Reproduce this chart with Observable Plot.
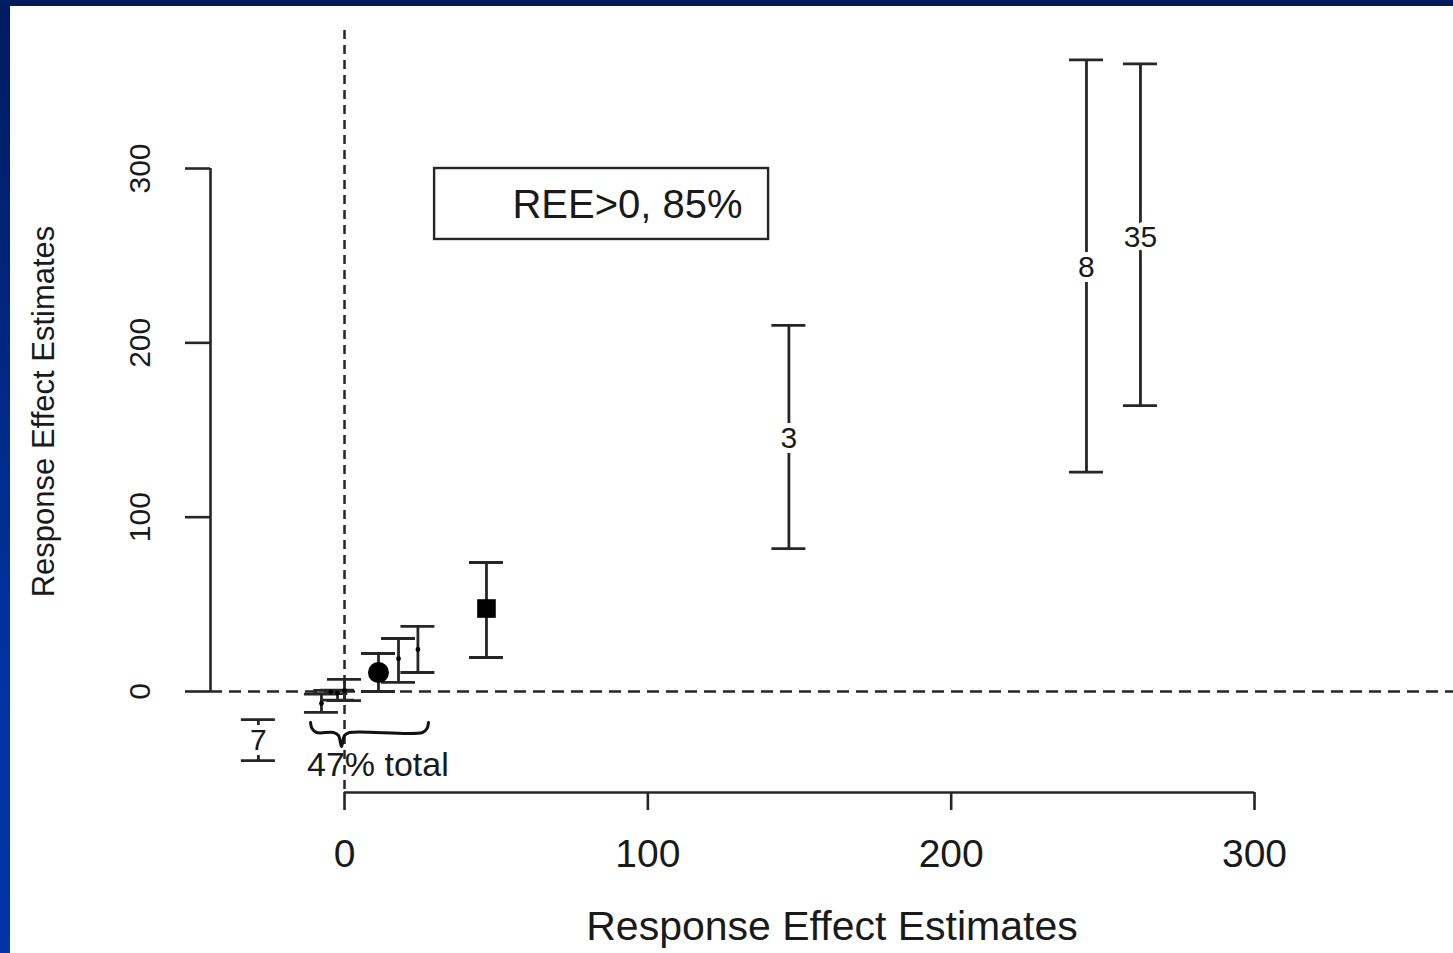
<!DOCTYPE html>
<html>
<head>
<meta charset="utf-8">
<script src="https://cdn.jsdelivr.net/npm/d3@7"></script>
<script src="https://cdn.jsdelivr.net/npm/@observablehq/plot@0.6"></script>
<style>
  html, body { margin: 0; padding: 0; background: #ffffff; overflow: hidden; }
  #wrap { position: relative; width: 1453px; height: 953px; background: #ffffff; }
  #topbar { position: absolute; left: 0; top: 0; width: 1453px; height: 6px; background: #001b5e; z-index: 2; }
  #leftbar { position: absolute; left: 0; top: 0; width: 10px; height: 953px; background: linear-gradient(#001b5e, #0033a0 70%, #0035a3); z-index: 2; }
  #chart { position: absolute; left: 0; top: 0; }
</style>
</head>
<body>
<div id="wrap">
  <div id="topbar"></div>
  <div id="leftbar"></div>
  <div id="chart"></div>
</div>
<script>
// ---- data ----
const xTicks = [0, 100, 200, 300];
const yTicks = [0, 100, 200, 300];
const xLabel = "Response Effect Estimates";
const yLabel = "Response Effect Estimates";

// estimates shown by a number label
const labeledX    = [-28.4, 146.5, 244.6, 262.4];
const labeledY    = [-28.0, 145.0, 243.2, 260.6];
const labeledLo   = [-39.6,  82.0, 125.8, 164.0];
const labeledHi   = [-16.1, 210.0, 362.3, 360.0];
const labeledText = ["7", "3", "8", "35"];

// estimates shown by a small dot
const smallX  = [-7.6, -4.5, -2.3, 0.0, 17.8, 24.2];
const smallY  = [-6.9, -0.3, -1.0, 0.5, 18.8, 24.1];
const smallLo = [-12.0, -1.2, -5.0, -5.2, 5.2, 10.9];
const smallHi = [-1.5, 0.6, 0.8, 6.9, 30.4, 37.3];

// estimate shown by a filled circle
const circleX = [11.2], circleY = [10.9], circleLo = [0.0], circleHi = [21.8];
// estimate shown by a filled square
const squareX = [46.8], squareY = [47.6], squareLo = [19.5], squareHi = [74.0];

// annotations
const boxText = "REE>0, 85%";
const boxX = [29.7, 139.8];
const boxY = [259.3, 300.0];
const boxTextPos = [93.3, 278.8];
const braceText = "47% total";
const braceTextPos = [11.0, -42.4];
// brace outline (data units)
const braceXs = [-11.21, -10.71, -9.23, -3.63, -1.98, -0.99, 0.0, 1.65, 25.71, 27.2, 27.69];
const braceYs = [-17.78, -21.22, -23.52, -23.52, -25.24, -31.55, -25.24, -23.52, -23.52, -21.22, -17.78];

// plot region extent in data units
const xDomain = [-44.18, 365.6];
const yDomain = [-57.94, 379.17];

// ---- build tables ----
const mk = (xs, ys, los, his, extra) => xs.map((x, i) => ({x, y: ys[i], lo: los[i], hi: his[i], ...(extra ? {label: extra[i]} : {})}));
const labeled = mk(labeledX, labeledY, labeledLo, labeledHi, labeledText);
const small = mk(smallX, smallY, smallLo, smallHi);
const circle = mk(circleX, circleY, circleLo, circleHi);
const square = mk(squareX, squareY, squareLo, squareHi);
const allBars = [...labeled, ...small, ...circle, ...square];
const brace = braceXs.map((x, i) => ({x, y: braceYs[i]}));

const ink = "#262626";
const font = "'Liberation Sans', Arial, Helvetica, sans-serif";

const chart = Plot.plot({
  width: 1453,
  height: 953,
  marginLeft: 210,
  marginRight: 0,
  marginTop: 30,
  marginBottom: 161,
  style: {fontFamily: font, background: "transparent", color: "#1a1a1a"},
  x: {domain: xDomain},
  y: {domain: yDomain},
  marks: [
    // reference lines
    Plot.ruleY([0], {stroke: ink, strokeWidth: 2.5, strokeDasharray: "12,7"}),
    Plot.ruleX([0], {stroke: ink, strokeWidth: 2.5, strokeDasharray: "9,6"}),
    // axis lines (R style: span first to last tick)
    Plot.ruleX([xDomain[0]], {y1: yTicks[0], y2: yTicks[yTicks.length - 1], stroke: ink, strokeWidth: 2.6}),
    Plot.ruleY([yDomain[0]], {x1: xTicks[0], x2: xTicks[xTicks.length - 1], stroke: ink, strokeWidth: 2.6}),
    Plot.axisX({ticks: xTicks, tickSize: 18, tickPadding: 29, fontSize: 39, label: null, stroke: ink, strokeWidth: 2.6, fill: "#1a1a1a"}),
    Plot.axisY({ticks: yTicks, tickSize: 25, tickFormat: () => "", label: null, stroke: ink, strokeWidth: 2.6}),
    Plot.text(yTicks, {x: xDomain[0], y: d => d, text: d => String(d), rotate: -90, dx: -70, fontSize: 30, fill: "#1a1a1a", textAnchor: "middle", lineAnchor: "middle"}),
    Plot.text([xLabel], {frameAnchor: "bottom", dy: 134, fontSize: 41, fill: "#1a1a1a", textAnchor: "middle", lineAnchor: "middle"}),
    Plot.text([yLabel], {frameAnchor: "left", rotate: -90, dx: -166, fontSize: 31, fill: "#1a1a1a", textAnchor: "middle", lineAnchor: "middle"}),
    // error bars
    Plot.ruleX(allBars, {x: "x", y1: "lo", y2: "hi", stroke: ink, strokeWidth: 2.8}),
    Plot.ruleY(allBars, {y: "hi", x1: "x", x2: "x", insetLeft: -17, insetRight: -17, stroke: ink, strokeWidth: 2.8}),
    Plot.ruleY(allBars, {y: "lo", x1: "x", x2: "x", insetLeft: -17, insetRight: -17, stroke: ink, strokeWidth: 2.8}),
    // point markers
    Plot.dot(small, {x: "x", y: "y", r: 2.4, fill: "#000"}),
    Plot.dot(circle, {x: "x", y: "y", r: 10.5, fill: "#000"}),
    Plot.dot(square, {x: "x", y: "y", r: 10.5, symbol: "square", fill: "#000"}),
    Plot.text(labeled, {x: "x", y: "y", text: "label", fontSize: 30, fill: "#1a1a1a", stroke: "white", strokeWidth: 10, lineAnchor: "middle"}),
    // annotations
    Plot.rect([0], {x1: boxX[0], x2: boxX[1], y1: boxY[0], y2: boxY[1], fill: "white", stroke: ink, strokeWidth: 2.4}),
    Plot.text([boxText], {x: boxTextPos[0], y: boxTextPos[1], fontSize: 40, fill: "#1a1a1a", lineAnchor: "middle"}),
    Plot.line(brace, {x: "x", y: "y", curve: "catmull-rom", stroke: "#111", strokeWidth: 3}),
    Plot.text([braceText], {x: braceTextPos[0], y: braceTextPos[1], fontSize: 34, fill: "#1a1a1a", lineAnchor: "middle"})
  ]
});
document.getElementById("chart").appendChild(chart);
</script>
</body>
</html>
